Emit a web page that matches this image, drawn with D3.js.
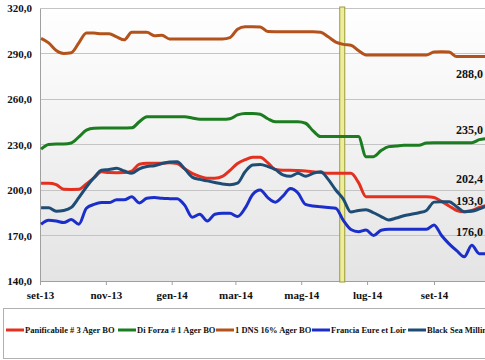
<!DOCTYPE html>
<html><head><meta charset="utf-8">
<script src="https://cdn.jsdelivr.net/npm/d3@7"></script>
<style>body{margin:0;background:#fff}svg{display:block}text{font-family:"Liberation Serif","Times New Roman",serif;font-weight:bold;fill:#111}</style>
</head><body><svg id="c" width="485" height="360"></svg>
<script>
// ---- data ----
const firstWeek = new Date(2013, 8, 2);
const nWeeks = 60;
const seriesNames = ["Panificabile # 3 Ager BO","Di Forza # 1 Ager BO","1 DNS 16% Ager BO","Francia Eure et Loir","Black Sea Milling"];
const panificabile = [204.4,204.4,203.5,200.5,200.4,200.5,204,208,212,211.5,211.4,211.5,212.5,217,217.6,217.6,217.6,218,217.5,214,211,209,207.7,207.7,209,213,217.5,220,221.6,221.6,218,213.5,213,213,212.8,212.5,212,211.5,211,211,211,211,205,195.6,195.6,195.6,195.6,195.6,195.6,195.6,195.6,195.5,195,192.5,189.5,186.5,185.7,186.5,188.5,190];
const diForza = [227,230,230.3,230.3,231,235,239.5,240.7,240.8,240.8,240.8,240.9,241,245,248.3,248.3,248.3,248.3,248.3,248.3,247.5,246.6,246.6,246.6,246.6,247,249.5,250.5,250.5,250,247,245,245,245,245,244,239,235.2,235.2,235.2,235.2,235.2,235.2,222,222,226,228.6,229,229.5,229.5,229.5,231,231.2,231.2,231.2,231.2,231.2,231.2,233.2,234];
const dns = [300,297,292,290,290.5,297,303.5,303.5,303,303,301,299,304,304,304,301.7,302,299.6,299.6,299.6,299.6,299.6,299.6,299.6,299.6,300.5,306,307.7,307.7,307.5,304.5,304.4,304.4,304.4,304.4,304.4,304.4,304,301,297.5,296,295.5,292,289,289,289,289,289,289,289,289,289,291,291.2,291,288,288,288,288,288];
const francia = [177.4,180,179.5,178.5,180.5,177.5,188,190.5,191.7,191.7,193.5,193.5,195.5,191.5,194.5,195,194.5,194.3,194.2,190,182,184,179.5,184,184.6,184.6,182.5,188,197,200,195,192,196,201,198,190.5,189.5,189,188.5,188,180,174,172.5,173.6,170,173.5,174.1,174.1,174.1,174.1,174.1,174.1,177,170,164.5,160,156,163.5,158,158];
const blackSea = [188.3,188.3,186,186.5,188.5,195,202,208,213,213.5,214.3,212.5,211,214,215.5,216,217.5,218.5,218.7,214,208.5,207,206,205,204,203.5,204.5,212,216.5,216.8,215.5,213.5,210,209,211,209,211,212,207,200,194,185.5,186.5,187,185,182.5,180.3,181.5,183,184,185,186.5,192,192.3,192.3,189,185.7,186,187.5,189.5];
const seriesColors = ["#e3301f","#1b7d1f","#b4521b","#1b2ec9","#1f4c74"];
const yTicks = [140,170,200,230,260,290,320];
const xTickLabels = ["set-13","nov-13","gen-14","mar-14","mag-14","lug-14","set-14"];
const xTickDates = [new Date(2013,8,1),new Date(2013,10,1),new Date(2014,0,1),new Date(2014,2,1),new Date(2014,4,1),new Date(2014,6,1),new Date(2014,8,1)];
const markerDate = new Date(2014,5,8);
const endLabels = ["288,0","235,0","202,4","193,0","176,0"];
const endLabelValues = [288,235,202.4,193,176];

// ---- layout ----
const svg = d3.select("#c");
const dates = d3.range(nWeeks).map(i => d3.timeDay.offset(firstWeek, 7*i));
const allSeries = [panificabile, diForza, dns, francia, blackSea];
const x = d3.scaleTime().domain([xTickDates[0], xTickDates[6]]).range([40, 434]);
const y = d3.scaleLinear().domain([140, 320]).range([281, 8]);
const plotRight = 520;

const defs = svg.append("defs");
const g = defs.append("linearGradient").attr("id","bg").attr("x1",0).attr("x2",0).attr("y1",0).attr("y2",1);
g.append("stop").attr("offset","0%").attr("stop-color","#ffffff");
g.append("stop").attr("offset","100%").attr("stop-color","#e4e4e4");
svg.append("rect").attr("x",40).attr("y",y(320)).attr("width",plotRight-40).attr("height",y(140)-y(320)).attr("fill","url(#bg)");

// gridlines
svg.append("g").selectAll("line").data(yTicks).join("line")
  .attr("x1",40).attr("x2",plotRight).attr("y1",d=>y(d)).attr("y2",d=>y(d))
  .attr("stroke","#c4c4c4").attr("stroke-width",1).attr("shape-rendering","crispEdges");

// y axis
const yAxis = d3.axisLeft(y).tickValues(yTicks).tickSize(0).tickPadding(8)
  .tickFormat(d => d3.format(".1f")(d).replace(".",","));
const ya = svg.append("g").attr("transform","translate(40,0)").call(yAxis);
ya.select(".domain").attr("stroke","#a0a0a0").attr("shape-rendering","crispEdges");
ya.selectAll("text").attr("font-size",11).attr("font-family","Liberation Serif").attr("font-weight","bold").attr("fill","#111");

// x axis
const xAxis = d3.axisBottom(x).tickValues(xTickDates).tickSize(4).tickPadding(6)
  .tickFormat((d,i) => xTickLabels[i]);
const xa = svg.append("g").attr("transform","translate(0,281)").call(xAxis);
xa.select(".domain").remove();
xa.append("line").attr("x1",40).attr("x2",plotRight).attr("y1",0).attr("y2",0).attr("stroke","#a0a0a0").attr("shape-rendering","crispEdges");
xa.selectAll(".tick line").attr("stroke","#a0a0a0");
xa.selectAll("text").attr("font-size",11).attr("font-family","Liberation Serif").attr("font-weight","bold").attr("fill","#111");

// marker bar
const mx = x(markerDate);
svg.append("rect").attr("x",mx-2.5).attr("y",y(320)-1).attr("width",5).attr("height",y(140)-y(320)+2)
  .attr("fill","#eeee9a").attr("stroke","#9a9a3a").attr("stroke-width",1);

// lines
const line = d3.line().x((d,i)=>x(dates[i])).y(d=>y(d)).curve(d3.curveMonotoneX);
svg.append("g").selectAll("path").data(allSeries).join("path")
  .attr("d", d => line(d)).attr("fill","none")
  .attr("stroke",(d,i)=>seriesColors[i]).attr("stroke-width",3).attr("stroke-linejoin","round");

// end labels
const labelDy = [21, -3, -3, 4, 10];
svg.append("g").selectAll("text").data(endLabels).join("text")
  .attr("x",456).attr("y",(d,i)=>y(endLabelValues[i])+labelDy[i])
  .attr("font-size",12).text(d=>d);

// legend
svg.append("rect").attr("x",3.5).attr("y",308.5).attr("width",500).attr("height",50)
  .attr("fill","#fff").attr("stroke","#b0b0b0");
const legX = [6,118,216,312,408];
const lg = svg.append("g").selectAll("g").data(seriesNames).join("g")
  .attr("transform",(d,i)=>`translate(${legX[i]},330)`);
lg.append("line").attr("x1",0).attr("x2",18).attr("y1",0).attr("y2",0)
  .attr("stroke",(d,i)=>seriesColors[i]).attr("stroke-width",3);
lg.append("text").attr("x",19).attr("y",3).attr("font-size",8.5).text(d=>d);
</script></body></html>
